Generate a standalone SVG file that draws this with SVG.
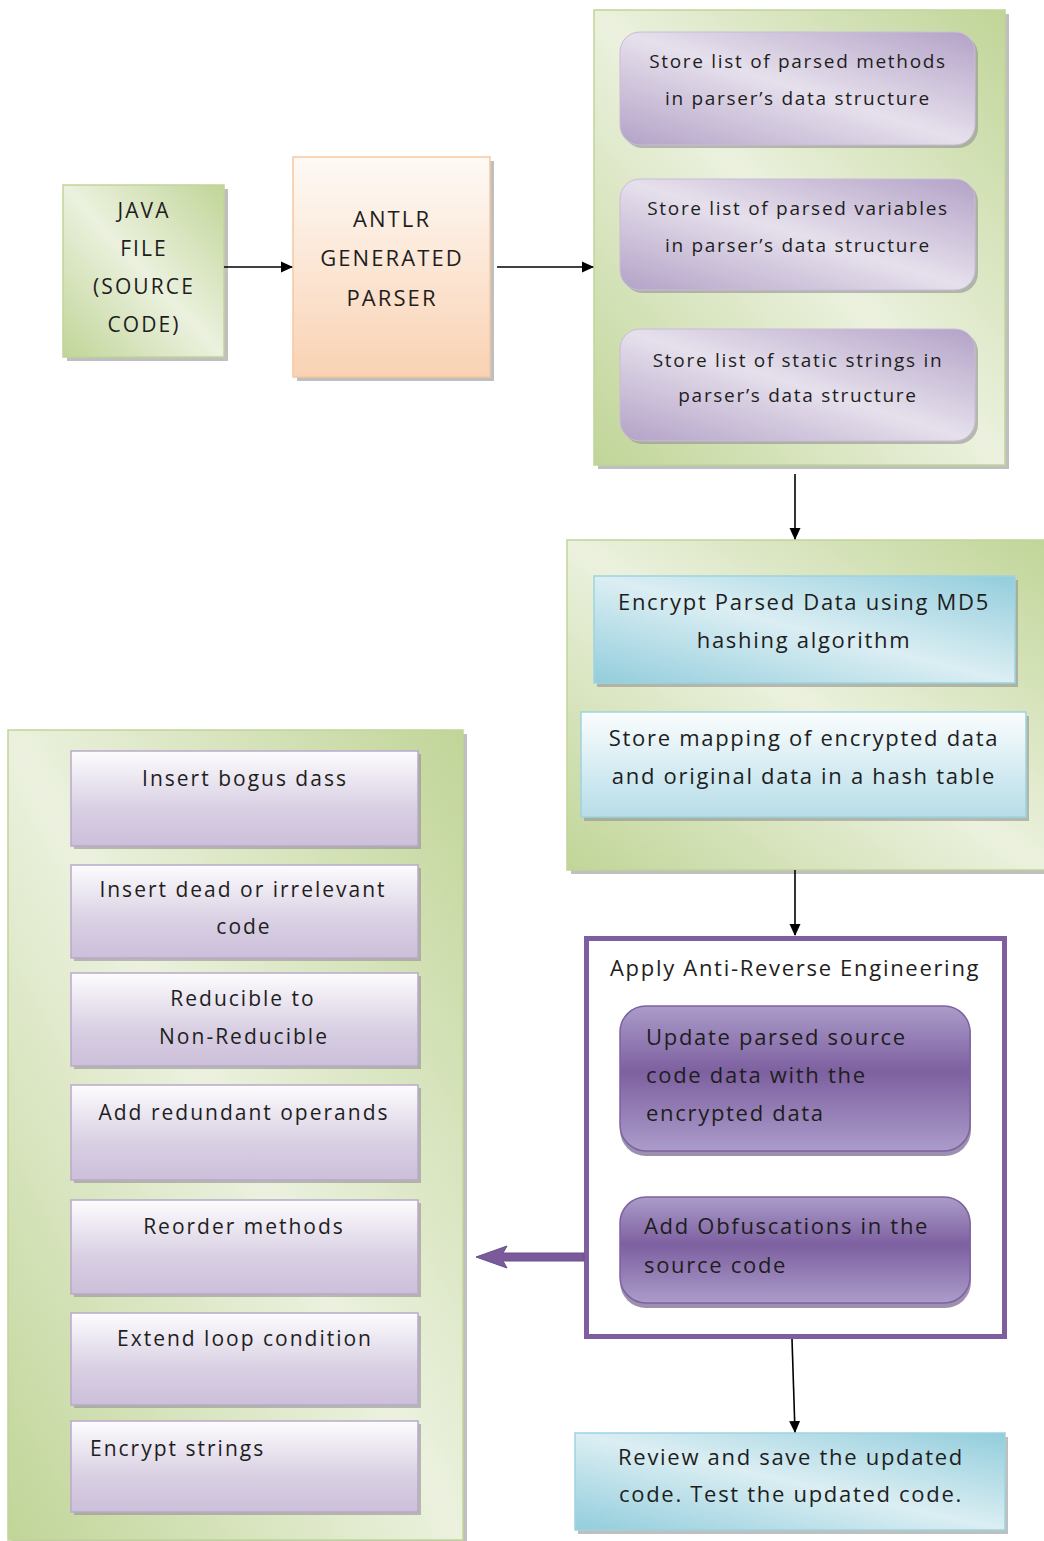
<svg xmlns="http://www.w3.org/2000/svg" width="1044" height="1541" viewBox="0 0 1044 1541">
  <defs>
    <linearGradient id="gGreen" x1="1" y1="0" x2="0" y2="1">
      <stop offset="0" stop-color="#c1d598"/>
      <stop offset="0.5" stop-color="#ebf1de"/>
      <stop offset="1" stop-color="#c1d598"/>
    </linearGradient>
    <linearGradient id="gOrange" x1="0" y1="0" x2="0" y2="1">
      <stop offset="0" stop-color="#fefaf6"/>
      <stop offset="1" stop-color="#f9d2b3"/>
    </linearGradient>
    <linearGradient id="gLav" x1="1" y1="0" x2="0" y2="1">
      <stop offset="0" stop-color="#b3a2c7"/>
      <stop offset="0.5" stop-color="#e6e0ec"/>
      <stop offset="1" stop-color="#b3a2c7"/>
    </linearGradient>
    <linearGradient id="gBlue" x1="1" y1="0" x2="0" y2="1">
      <stop offset="0" stop-color="#92cddc"/>
      <stop offset="0.5" stop-color="#dbeef3"/>
      <stop offset="1" stop-color="#92cddc"/>
    </linearGradient>
    <linearGradient id="gBlueV" x1="0" y1="0" x2="0" y2="1">
      <stop offset="0" stop-color="#fafdfe"/>
      <stop offset="1" stop-color="#b7dde8"/>
    </linearGradient>
    <linearGradient id="gStep" x1="0" y1="0" x2="0" y2="1">
      <stop offset="0" stop-color="#fdfcfe"/>
      <stop offset="0.6" stop-color="#d9d0e3"/>
      <stop offset="1" stop-color="#ccbfda"/>
    </linearGradient>
    <linearGradient id="gDeep" x1="0" y1="0" x2="0" y2="1">
      <stop offset="0" stop-color="#ab9cc9"/>
      <stop offset="0.45" stop-color="#7d60a0"/>
      <stop offset="1" stop-color="#ab9cca"/>
    </linearGradient>
    <marker id="arrow" markerWidth="12" markerHeight="12" refX="11" refY="6" orient="auto" markerUnits="userSpaceOnUse">
      <path d="M0,0.5 L12,6 L0,11.5 z" fill="#000"/>
    </marker>
    <style>
      text { font-family: "Open Sans", "Liberation Sans", sans-serif; fill: #1e1e1e; letter-spacing: 1.7px; }
      .c { text-anchor: middle; }
      .shadow { fill: #8a8a8a; opacity: 0.55; }
      .green { fill: url(#gGreen); stroke: #c1d598; stroke-width: 1.5; }
      .lav { fill: url(#gLav); stroke: #c9bcd8; stroke-width: 1; }
      .blue { fill: url(#gBlue); stroke: #9dd3df; stroke-width: 1.5; }
      .step { fill: url(#gStep); stroke: #b9a9cc; stroke-width: 1.5; }
      .deep { fill: url(#gDeep); stroke: #7d62a0; stroke-width: 1.5; }
      .conn { stroke: #000; stroke-width: 1.6; fill: none; marker-end: url(#arrow); }
      .f19 { font-size: 19px; }
      .f21 { font-size: 21px; letter-spacing: 2px; }
      .f22 { font-size: 22px; }
      .caps { letter-spacing: 2.1px; }
    </style>
  </defs>

  <!-- Input file -->
  <g id="java-file">
    <rect class="shadow" x="67" y="189" width="161" height="172"/>
    <rect class="green" x="63" y="185" width="161" height="172"/>
    <text class="c f21 caps" x="144" y="218">JAVA</text>
    <text class="c f21 caps" x="144" y="256">FILE</text>
    <text class="c f21 caps" x="144" y="294">(SOURCE</text>
    <text class="c f21 caps" x="144" y="332">CODE)</text>
  </g>

  <!-- Parser -->
  <g id="antlr-parser">
    <rect class="shadow" x="297" y="161" width="197" height="220"/>
    <rect x="293" y="157" width="197" height="220" fill="url(#gOrange)" stroke="#f6c7a2" stroke-width="1.5"/>
    <text class="c f22 caps" x="392" y="227">ANTLR</text>
    <text class="c f22 caps" x="392" y="266">GENERATED</text>
    <text class="c f22 caps" x="392" y="306">PARSER</text>
  </g>

  <!-- Parsed data store -->
  <g id="parsed-store">
    <rect class="shadow" x="598" y="14" width="411" height="455"/>
    <rect class="green" x="594" y="10" width="411" height="455"/>
    <g id="store-methods">
      <rect class="shadow" x="623" y="35" width="355" height="113" rx="20"/>
      <rect class="lav" x="620" y="32" width="355" height="113" rx="20"/>
      <text class="c f19" x="798" y="68">Store list of parsed methods</text>
      <text class="c f19" x="798" y="105">in parser’s data structure</text>
    </g>
    <g id="store-variables">
      <rect class="shadow" x="623" y="182" width="355" height="111" rx="20"/>
      <rect class="lav" x="620" y="179" width="355" height="111" rx="20"/>
      <text class="c f19" x="798" y="215">Store list of parsed variables</text>
      <text class="c f19" x="798" y="252">in parser’s data structure</text>
    </g>
    <g id="store-strings">
      <rect class="shadow" x="623" y="332" width="355" height="112" rx="20"/>
      <rect class="lav" x="620" y="329" width="355" height="112" rx="20"/>
      <text class="c f19" x="798" y="367">Store list of static strings in</text>
      <text class="c f19" x="798" y="402">parser’s data structure</text>
    </g>
  </g>

  <!-- Encryption stage -->
  <g id="encryption">
    <rect class="shadow" x="571" y="544" width="477" height="330"/>
    <rect class="green" x="567" y="540" width="480" height="330"/>
    <g id="encrypt-md5">
      <rect class="shadow" x="597" y="580" width="421" height="107"/>
      <rect class="blue" x="594" y="576" width="421" height="107"/>
      <text class="c f22" x="804" y="610">Encrypt Parsed Data using MD5</text>
      <text class="c f22" x="804" y="648">hashing algorithm</text>
    </g>
    <g id="hash-table">
      <rect class="shadow" x="584" y="716" width="445" height="105"/>
      <rect x="581" y="712" width="445" height="105" fill="url(#gBlueV)" stroke="#9dd3df" stroke-width="1.5"/>
      <text class="c f22" x="804" y="746">Store mapping of encrypted data</text>
      <text class="c f22" x="804" y="784">and original data in a hash table</text>
    </g>
  </g>

  <!-- Anti-reverse-engineering stage -->
  <g id="anti-reverse">
    <rect x="586.5" y="938.5" width="418" height="398" fill="#fff" stroke="#7e5ea0" stroke-width="5"/>
    <text class="f22" x="610" y="976">Apply Anti-Reverse Engineering</text>
    <g id="update-data">
      <rect x="620" y="1009" width="351" height="147" rx="26" fill="#5b4479" opacity="0.6"/>
      <rect class="deep" x="620" y="1006" width="350" height="145" rx="26"/>
      <text class="f22" x="646" y="1045">Update parsed source</text>
      <text class="f22" x="646" y="1083">code data with the</text>
      <text class="f22" x="646" y="1121">encrypted data</text>
    </g>
    <g id="add-obfuscations">
      <rect x="620" y="1200" width="351" height="108" rx="26" fill="#5b4479" opacity="0.6"/>
      <rect class="deep" x="620" y="1197" width="350" height="106" rx="26"/>
      <text class="f22" x="644" y="1234">Add Obfuscations in the</text>
      <text class="f22" x="644" y="1273">source code</text>
    </g>
  </g>

  <!-- Obfuscation techniques -->
  <g id="techniques">
    <rect class="shadow" x="12" y="734" width="455" height="810"/>
    <rect class="green" x="8" y="730" width="455" height="810"/>
    <g id="bogus-class">
      <rect class="shadow" x="74" y="754" width="347" height="95"/>
      <rect class="step" x="71" y="751" width="347" height="95"/>
      <text class="c f21" x="245" y="786">Insert bogus dass</text>
    </g>
    <g id="dead-code">
      <rect class="shadow" x="74" y="868" width="347" height="93"/>
      <rect class="step" x="71" y="865" width="347" height="93"/>
      <text class="c f21" x="243" y="897">Insert dead or irrelevant</text>
      <text class="c f21" x="244" y="934">code</text>
    </g>
    <g id="reducible">
      <rect class="shadow" x="74" y="976" width="347" height="93"/>
      <rect class="step" x="71" y="973" width="347" height="93"/>
      <text class="c f21" x="243" y="1006">Reducible to</text>
      <text class="c f21" x="244" y="1044">Non-Reducible</text>
    </g>
    <g id="redundant-operands">
      <rect class="shadow" x="74" y="1088" width="347" height="95"/>
      <rect class="step" x="71" y="1085" width="347" height="95"/>
      <text class="c f21" x="244" y="1120">Add redundant operands</text>
    </g>
    <g id="reorder-methods">
      <rect class="shadow" x="74" y="1203" width="347" height="94"/>
      <rect class="step" x="71" y="1200" width="347" height="94"/>
      <text class="c f21" x="244" y="1234">Reorder methods</text>
    </g>
    <g id="loop-condition">
      <rect class="shadow" x="74" y="1316" width="347" height="92"/>
      <rect class="step" x="71" y="1313" width="347" height="92"/>
      <text class="c f21" x="245" y="1346">Extend loop condition</text>
    </g>
    <g id="encrypt-strings">
      <rect class="shadow" x="74" y="1424" width="347" height="91"/>
      <rect class="step" x="71" y="1421" width="347" height="91"/>
      <text class="f21" x="90" y="1456">Encrypt strings</text>
    </g>
  </g>

  <!-- Final review -->
  <g id="review">
    <rect class="shadow" x="578" y="1437" width="430" height="97"/>
    <rect class="blue" x="575" y="1433" width="430" height="97"/>
    <text class="c f22" x="791" y="1465">Review and save the updated</text>
    <text class="c f22" x="791" y="1502">code. Test the updated code.</text>
  </g>

  <!-- Connectors -->
  <g id="connectors">
    <line class="conn" x1="224" y1="267" x2="292" y2="267"/>
    <line class="conn" x1="497" y1="267" x2="593" y2="267"/>
    <line class="conn" x1="795" y1="474" x2="795" y2="539"/>
    <line class="conn" x1="795" y1="870" x2="795" y2="935"/>
    <line class="conn" x1="792" y1="1339" x2="795" y2="1432"/>
    <polygon points="584,1253 503,1253 507,1246 476,1257 507,1268 503,1261 584,1261" fill="#7a5a9a" stroke="#6a4c8c" stroke-width="1"/>
  </g>
</svg>
